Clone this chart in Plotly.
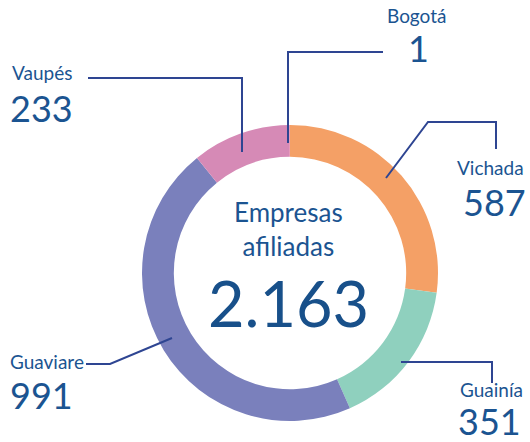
import plotly.graph_objects as go

W, H = 530, 442

departments = ["Vichada", "Guainía", "Guaviare", "Vaupés", "Bogotá"]
companies = [587, 351, 991, 233, 1]
slice_colors = ["#F4A066", "#8FD0BE", "#7A80BC", "#D68AB6", "#EF6F8F"]
total_label = "2.163"
center_title = "Empresas<br>afiliadas"

TXT = "#1B5491"
LINE = "#2E4592"
FONT = "Lato"

def px(x):
    return x / W

def py(y):
    return 1 - y / H

cx, cy, r = 290, 273, 148

fig = go.Figure(go.Pie(
    labels=departments,
    values=companies,
    sort=False,
    direction="clockwise",
    rotation=0,
    hole=0.785,
    marker=dict(colors=slice_colors, line=dict(width=0)),
    textinfo="none",
    hoverinfo="label+value",
    showlegend=False,
    domain=dict(x=[px(cx - r), px(cx + r)], y=[py(cy + r), py(cy - r)]),
))

# leader lines (pixel paths)
paths = [
    [(383, 52), (288, 52), (288, 143)],            # Bogotá
    [(88, 78), (242, 78), (242, 152)],             # Vaupés
    [(386, 178), (428, 122), (496, 122), (496, 149)],  # Vichada
    [(401, 362), (492, 362), (492, 383)],          # Guainía
    [(86, 364), (110, 364), (172, 338)],           # Guaviare
]
shapes = []
for pts in paths:
    d = "M " + " L ".join(f"{px(x):.5f},{py(y):.5f}" for x, y in pts)
    shapes.append(dict(type="path", path=d, xref="paper", yref="paper",
                       line=dict(color=LINE, width=2)))

ann = []
def label(text, x, y, size, xanchor):
    ann.append(dict(text=text, x=px(x), y=py(y), xref="paper", yref="paper",
                    xanchor=xanchor, yanchor="middle", showarrow=False,
                    font=dict(family=FONT, size=size, color=TXT)))

name_size, num_size = 19, 36
vals = dict(zip(departments, companies))

label("Bogotá", 416, 16, name_size, "center")
label(str(vals["Bogotá"]), 418, 48, num_size, "center")
label("Vaupés", 10, 73, name_size, "left")
label(str(vals["Vaupés"]), 8, 108, num_size, "left")
label("Vichada", 526, 167, name_size, "right")
label(str(vals["Vichada"]), 528, 202, num_size, "right")
label("Guainía", 525, 389, name_size, "right")
label(str(vals["Guainía"]), 523, 421, num_size, "right")
label("Guaviare", 8, 361, name_size, "left")
label(str(vals["Guaviare"]), 8, 395, num_size, "left")

ann.append(dict(text=center_title, x=px(cx - 2), y=py(229), xref="paper", yref="paper",
                xanchor="center", yanchor="middle", showarrow=False,
                font=dict(family=FONT, size=26, color=TXT)))
ann.append(dict(text=total_label, x=px(cx - 2), y=py(302), xref="paper", yref="paper",
                xanchor="center", yanchor="middle", showarrow=False,
                font=dict(family=FONT, size=63, color="#18508A")))

fig.update_layout(
    width=W, height=H,
    margin=dict(l=0, r=0, t=0, b=0),
    paper_bgcolor="white", plot_bgcolor="white",
    shapes=shapes, annotations=ann,
)

fig.write_html("out.html",
               config={"displayModeBar": False},
               post_script="document.body.style.margin='0';document.body.style.overflow='hidden';")
